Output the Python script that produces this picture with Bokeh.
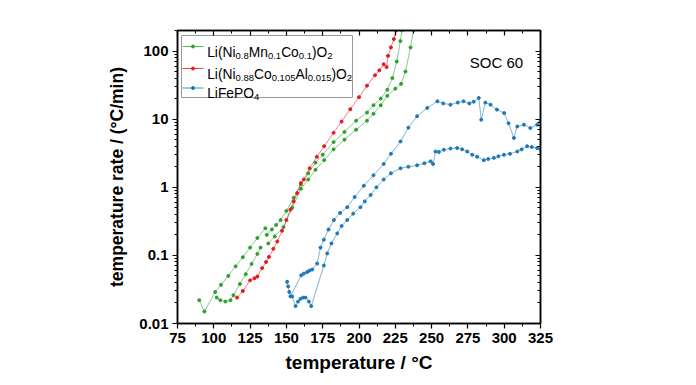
import math
import numpy as np
from bokeh.plotting import figure
from bokeh.models import (LinearAxis, LogAxis, FixedTicker, SingleIntervalTicker,
                          CustomJSTickFormatter, Range1d)
from bokeh.core.properties import value
from bokeh.embed import file_html
from bokeh.resources import INLINE

NAN = float("nan")

# ---------------- data ----------------
# Li(Ni0.8Mn0.1Co0.1)O2 - two runs
nmc_a_T = [90, 93.5, 101, 105, 110, 115, 120, 125, 130, 135.5, NAN, 136.5, 140, 143, 146, 150, 155, 160, 165, 170,
           175, 182.5, 190, 198, 205.5, 210, 215, 219.5, 223, 226, 228.5, 229.5]
nmc_a_r = [0.022, 0.015, 0.029, 0.037, 0.050, 0.069, 0.094, 0.13, 0.18, 0.25, NAN, 0.20, 0.24, 0.28, 0.33, 0.45, 0.70, 1.1, 1.6, 2.3,
           3.0, 4.6, 6.5, 9.5, 12.5, 16, 20, 27, 40, 70, 140, 200]
nmc_b_T = [102, 104.5, 108, 111.5, 113.5, 118, 122, 126, 130, 132.2, NAN, 137.5, 142, 148, 154, 160, 165, 170, 176, 182.5,
           190, 198, 205.5, 210, 215, 219.5, 225, 229, 232, 235.5, 237.5]
nmc_b_r = [0.024, 0.022, 0.021, 0.022, 0.026, 0.038, 0.053, 0.075, 0.105, 0.13, NAN, 0.15, 0.19, 0.26, 0.5, 0.95, 1.3, 1.8, 2.5, 3.6,
           5.0, 7.0, 9.5, 12, 16, 22, 28, 33, 50, 113, 200]

# Li(Ni0.88Co0.105Al0.015)O2
nca_T = [116, 120, 125, 128, 130, 133.3, 136, 138, 141, 143.7, 147, 150, 152.8, 155, 157.4, 160, 162, 166, 171, 176,
         182.5, 188, 194, 200, 205.5, 211, 214, 217, 219, 220, 222, 224, 225.5]
nca_r = [0.024, 0.03, 0.043, 0.046, 0.049, 0.065, 0.08, 0.095, 0.125, 0.16, 0.23, 0.33, 0.47, 0.62, 0.82, 1.15, 1.3, 1.9, 2.8, 4.0,
         6.3, 9.2, 14, 21, 31, 44, 52, 64, 58, 85, 113, 150, 200]

# LiFePO4 - two runs
lfp_a_T = [150.5, 151.2, 152, 152.8, 160.2, 162, 164.3, 166, 167.8, 171.2, 173.5, 175.8, 179, 182.7,
           187, 191.9, 197, 203.3, 210, 217, 222, 228.6, 234, 240, 247, 254, 258, 263, 268, 272, 276, 279, 282.5, 284.2,
           287, 290.6, 295, 300, 303, 306.7, 309, 313.6, 318, 322.7, 325]
lfp_a_r = [0.041, 0.035, 0.029, 0.025, 0.051, 0.054, 0.057, 0.060, 0.062, 0.076, 0.13, 0.17, 0.24, 0.33,
           0.42, 0.51, 0.72, 1.05, 1.5, 2.2, 3.1, 4.7, 7.5, 11, 14.6, 18.3, 17, 16.3, 17.5, 18.3, 17, 18, 20.5, 9.8,
           17.5, 16.3, 13.8, 12.3, 8.7, 5.3, 7.8, 8.3, 7.4, 8.3, 9.3]
lfp_b_T = [154, 156.3, 158, 159.7, 161.5, 163.2, 165.5, 167.1, 175.8, 178.1, 181, 185, 188, 191.9, 196, 201, 204, 208,
           212, 217, 222, 228.6, 234, 240, 245, 249.3, 251, 252.7, 255, 258.4, 263, 267.6, 271, 274.5, 278, 281.4, 286, 289,
           292.9, 296, 299.8, 304, 309, 312, 315.8, 319, 322.7, 325]
lfp_b_r = [0.025, 0.018, 0.021, 0.023, 0.024, 0.024, 0.021, 0.018, 0.071, 0.107, 0.15, 0.21, 0.27, 0.33, 0.41, 0.51, 0.62, 0.77,
           1.0, 1.3, 1.6, 1.9, 2.0, 2.1, 2.25, 2.4, 2.2, 3.35, 3.3, 3.55, 3.7, 3.76, 3.6, 3.35, 3.0, 2.8, 2.5, 2.6,
           2.7, 2.85, 3.0, 3.1, 3.35, 3.6, 4.0, 3.9, 3.76, 3.55]

x_ticks = [75, 100, 125, 150, 175, 200, 225, 250, 275, 300, 325]
y_ticks = [0.01, 0.1, 1, 10, 100]

# legend rows: pieces (text, is_subscript)
legend_rows = [
    [("Li(Ni", 0), ("0.8", 1), ("Mn", 0), ("0.1", 1), ("Co", 0), ("0.1", 1), (")O", 0), ("2", 1)],
    [("Li(Ni", 0), ("0.88", 1), ("Co", 0), ("0.105", 1), ("Al", 0), ("0.015", 1), (")O", 0), ("2", 1)],
    [("LiFePO", 0), ("4", 1)],
]
soc_text = "SOC 60"
x_label = "temperature / °C"
y_label = "temperature rate / (°C/min)"

GREEN = "#2ca02c"
RED = "#e41a1c"
BLUE = "#1f77b4"
colors = [GREEN, RED, BLUE]

# ---------------- figure ----------------
X0, X1 = 75, 325
Y0, Y1 = 0.01, 200
FW, FH = 363, 293
FONT = "Liberation Sans"

p = figure(frame_width=FW, frame_height=FH,
           x_range=Range1d(X0, X1), y_range=Range1d(Y0, Y1), y_axis_type="log",
           output_backend="svg", toolbar_location=None,
           min_border_left=177, min_border_right=140, min_border_top=30, min_border_bottom=54)
p.grid.visible = False
p.outline_line_color = "black"
p.outline_line_width = 1.5
p.background_fill_color = "white"
p.border_fill_color = "white"

minor_y = [k * 10.0 ** e for e in range(-2, 3) for k in range(2, 10) if k * 10.0 ** e <= Y1]

def style_axis(ax, inner=False, label_size="17.5px"):
    ax.axis_line_color = "black"
    ax.axis_line_width = 1.5
    ax.major_tick_line_color = "black"
    ax.minor_tick_line_color = "black"
    ax.major_tick_line_width = 1.2
    ax.minor_tick_line_width = 1
    if inner:
        ax.major_tick_in, ax.major_tick_out = 5, 0
        ax.minor_tick_in, ax.minor_tick_out = 3, 0
    else:
        ax.major_tick_in, ax.major_tick_out = 0, 5
        ax.minor_tick_in, ax.minor_tick_out = 0, 3
    ax.major_label_text_font = FONT
    ax.major_label_text_font_style = "bold"
    ax.major_label_text_font_size = "15px"
    ax.major_label_text_color = "black"
    ax.axis_label_text_font = FONT
    ax.axis_label_text_font_style = "bold"
    ax.axis_label_text_font_size = label_size
    ax.axis_label_text_color = "black"

xa = p.xaxis[0]
xa.ticker = SingleIntervalTicker(interval=25, num_minor_ticks=2)
xa.axis_label = x_label
xa.major_label_standoff = 4
xa.axis_label_standoff = 6
style_axis(xa, label_size="19px")

ya = p.yaxis[0]
ya.ticker = FixedTicker(ticks=y_ticks, minor_ticks=minor_y)
ya.formatter = CustomJSTickFormatter(code="return tick.toString();")
ya.axis_label = y_label
ya.major_label_standoff = 4
ya.axis_label_standoff = 9
style_axis(ya)

top = LinearAxis(ticker=SingleIntervalTicker(interval=25, num_minor_ticks=2),
                 formatter=CustomJSTickFormatter(code="return '';"), major_label_standoff=0)
style_axis(top, inner=True)
p.add_layout(top, "above")
right = LogAxis(ticker=FixedTicker(ticks=y_ticks, minor_ticks=minor_y),
                formatter=CustomJSTickFormatter(code="return '';"), major_label_standoff=0)
style_axis(right, inner=True)
p.add_layout(right, "right")

# ---------------- data series ----------------
def series(T, r, color):
    T = np.array(T, dtype=float)
    r = np.array(r, dtype=float)
    p.line(T, r, line_color=color, line_width=0.7, line_alpha=0.8)
    p.scatter(T, r, marker="circle", size=3, fill_color=color, line_color=color)

series(nmc_a_T, nmc_a_r, GREEN)
series(nmc_b_T, nmc_b_r, GREEN)
series(nca_T, nca_r, RED)
series(lfp_a_T, lfp_a_r, BLUE)
series(lfp_b_T, lfp_b_r, BLUE)

# ---------------- helpers: frame pixel offset -> data ----------------
def fx(px):
    return X0 + px / FW * (X1 - X0)

def fy(py):
    l1, l0 = math.log10(Y1), math.log10(Y0)
    return 10 ** (l1 - py / FH * (l1 - l0))

# ---------------- legend (drawn by hand for subscripts) ----------------
W = {'L': 556, 'i': 222, '(': 333, ')': 333, 'N': 722, 'M': 833, 'n': 556, 'C': 722, 'o': 556,
     'O': 778, '.': 278, 'A': 667, 'l': 222, 'F': 611, 'e': 556, 'P': 667}
def text_w(s, size):
    return sum(W.get(c, 556) for c in s) / 1000.0 * size

MAIN, SUB = 13.8, 9.5
p.quad(left=[fx(4)], right=[fx(175)], top=[fy(5)], bottom=[fy(67)],
       fill_color="white", line_color="#9a9a9a", line_width=1)
row_line_y = [16, 38, 57.5]
for row, ly, col in zip(legend_rows, row_line_y, colors):
    p.line([fx(5), fx(26)], [fy(ly), fy(ly)], line_color=col, line_width=0.8)
    p.scatter([fx(15.5)], [fy(ly)], marker="circle", size=3, fill_color=col, line_color=col)
    x = 29.7
    base = ly + 5.5
    mx, my, mt, sx, sy, st = [], [], [], [], [], []
    for txt, sub in row:
        if sub:
            sx.append(fx(x)); sy.append(fy(base + 3.5)); st.append(txt)
            x += text_w(txt, SUB)
        else:
            mx.append(fx(x)); my.append(fy(base)); mt.append(txt)
            x += text_w(txt, MAIN)
    p.text(mx, my, text=mt, text_font=value(FONT), text_font_size=value(f"{MAIN}px"),
           text_baseline="alphabetic", text_align="left", text_color="black")
    p.text(sx, sy, text=st, text_font=value(FONT), text_font_size=value(f"{SUB}px"),
           text_baseline="alphabetic", text_align="left", text_color="black")

p.text([fx(292.3)], [fy(32.3)], text=[soc_text], text_font=value(FONT), text_font_size=value("15px"),
       text_baseline="alphabetic", text_align="left", text_color="black")

open("out.html", "w").write(file_html(p, INLINE))
